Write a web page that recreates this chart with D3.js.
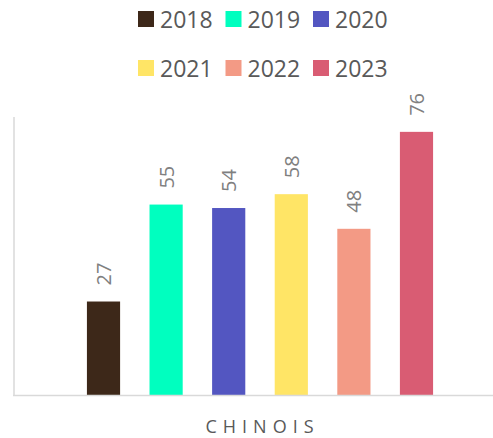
<!DOCTYPE html>
<html><head><meta charset="utf-8">
<script src="https://cdn.jsdelivr.net/npm/d3@7/dist/d3.min.js"></script>
<style>body{margin:0;background:#fff}svg{display:block}</style>
</head><body>
<svg id="c" width="493" height="438"></svg>
<script>
const categories = ["CHINOIS"];
const years = ["2018","2019","2020","2021","2022","2023"];
const values = [27, 55, 54, 58, 48, 76];
const colors = ["#3d2819","#00ffbf","#5356c1","#ffe566","#f39a85","#d95c73"];

const svg = d3.select("#c");
const W = 493, H = 438;
const plotL = 14, plotR = 506, plotT = 118, plotB = 395;
const font = "'Open Sans', Lato, sans-serif";

const x0 = d3.scaleBand().domain(categories).range([plotL, plotR]).padding(0);
const x1 = d3.scaleBand().domain(years).range([0, x0.bandwidth()])
  .paddingInner(0.47).paddingOuter(1.165);
const y = d3.scaleLinear().domain([0, 80]).range([plotB, plotT]);

svg.append("line").attr("x1", plotL).attr("x2", plotL).attr("y1", 117).attr("y2", plotB)
  .attr("stroke", "#d9d9d9").attr("stroke-width", 1.5);

const g = svg.append("g");
categories.forEach(cat => {
  const gx = x0(cat);
  years.forEach((yr, i) => {
    const bx = gx + x1(yr);
    g.append("rect").attr("x", bx).attr("y", y(values[i]))
      .attr("width", x1.bandwidth()).attr("height", y(0) - y(values[i]))
      .attr("fill", colors[i]);
    const cx = bx + x1.bandwidth() / 2, ty = y(values[i]) - 16;
    g.append("text").attr("transform", `translate(${cx},${ty}) rotate(-90)`)
      .attr("text-anchor", "start").attr("dominant-baseline", "central")
      .attr("font-family", font).attr("font-size", 20).attr("fill", "#808080")
      .text(values[i]);
  });
  svg.append("text").attr("x", 259.5 + 3).attr("y", 433)
    .attr("text-anchor", "middle").attr("font-family", font).attr("font-size", 18)
    .attr("letter-spacing", "6px").attr("fill", "#595959").text(cat);
});

svg.append("line").attr("x1", plotL - 1).attr("x2", W).attr("y1", plotB + 0.5).attr("y2", plotB + 0.5)
  .attr("stroke", "#d9d9d9").attr("stroke-width", 1.5);

const leg = svg.append("g");
years.forEach((yr, i) => {
  const col = i % 3, row = Math.floor(i / 3);
  const lx = 138 + col * 87.5, ly = 11 + row * 49;
  leg.append("rect").attr("x", lx).attr("y", ly).attr("width", 16).attr("height", 16).attr("fill", colors[i]);
  leg.append("text").attr("x", lx + 22).attr("y", ly + 8).attr("dominant-baseline", "central")
    .attr("font-family", font).attr("font-size", 23).attr("fill", "#595959").text(yr);
});
</script>
</body></html>
